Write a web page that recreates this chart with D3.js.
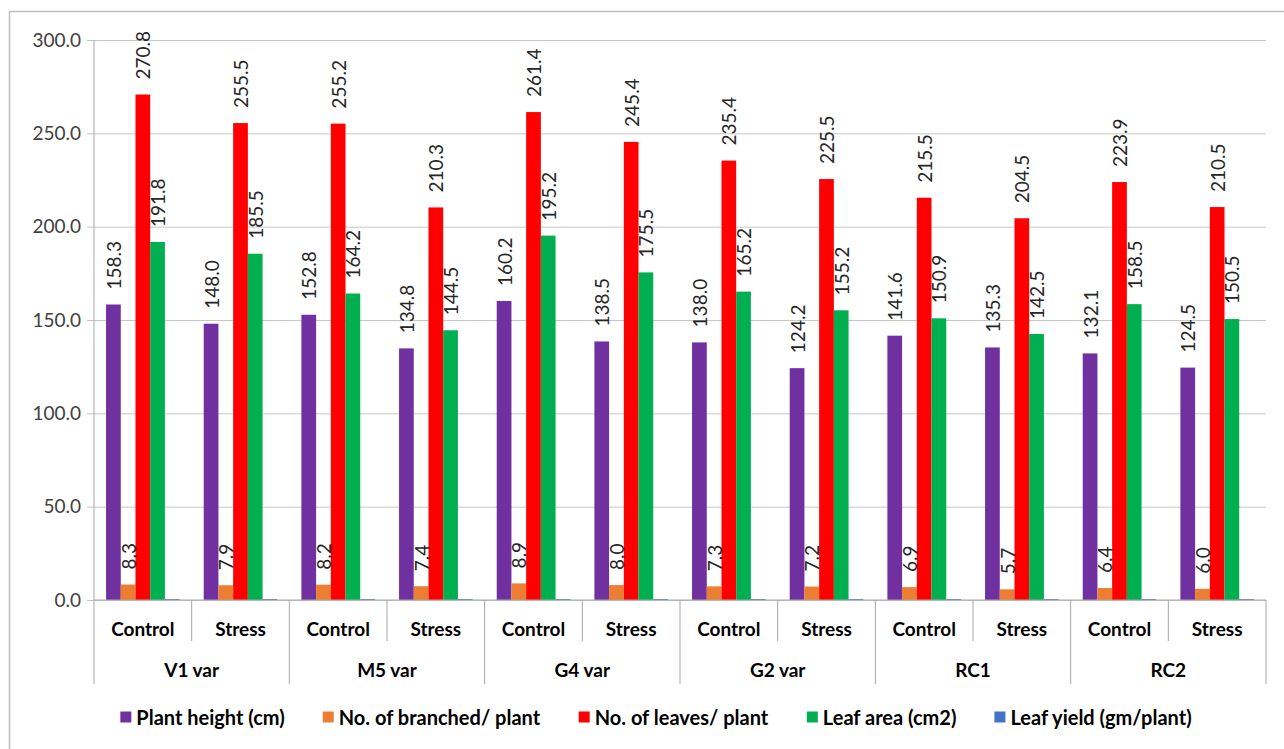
<!DOCTYPE html>
<html>
<head>
<meta charset="utf-8">
<script src="https://cdn.jsdelivr.net/npm/d3@7"></script>
<style>
    body { margin: 0; background: #fff; }
    svg { display: block; font-family: Lato, "Open Sans", sans-serif; }
</style>
</head>
<body>
<div id="chart"></div>
<script>
const groups = ['V1 var', 'M5 var', 'G4 var', 'G2 var', 'RC1', 'RC2'];
const treatments = ['Control', 'Stress'];
const seriesNames = ['Plant height (cm)', 'No. of branched/ plant', 'No. of leaves/ plant', 'Leaf area (cm2)', 'Leaf yield (gm/plant)'];
const seriesColors = ['#7030A0', '#ED7D31', '#FF0000', '#00B050', '#4472C4'];

const plantHeight = [158.3, 148.0, 152.8, 134.8, 160.2, 138.5, 138.0, 124.2, 141.6, 135.3, 132.1, 124.5];
const branches = [8.3, 7.9, 8.2, 7.4, 8.9, 8.0, 7.3, 7.2, 6.9, 5.7, 6.4, 6.0];
const leaves = [270.8, 255.5, 255.2, 210.3, 261.4, 245.4, 235.4, 225.5, 215.5, 204.5, 223.9, 210.5];
const leafArea = [191.8, 185.5, 164.2, 144.5, 195.2, 175.5, 165.2, 155.2, 150.9, 142.5, 158.5, 150.5];
const leafYield = [0.5, 0.5, 0.5, 0.5, 0.5, 0.5, 0.5, 0.5, 0.5, 0.5, 0.5, 0.5];
const yTicks = [0, 50, 100, 150, 200, 250, 300];

const seriesValues = [plantHeight, branches, leaves, leafArea, leafYield];
const showLabel = [true, true, true, true, false];

const W = 1284, H = 749;
const plot = { left: 94, right: 1266, top: 40, bottom: 600 };

const svg = d3.select('#chart').append('svg')
    .attr('width', W)
    .attr('height', H);

// outer chart border
svg.append('rect')
    .attr('x', 9.5).attr('y', 11.5)
    .attr('width', W).attr('height', H)
    .attr('fill', 'none')
    .attr('stroke', '#bfbfbf')
    .attr('stroke-width', 1.5);

// one category per group/treatment pair
const cats = [];
groups.forEach(g => treatments.forEach(t => cats.push(g + '|' + t)));

const x0 = d3.scaleBand()
    .domain(cats)
    .range([plot.left, plot.right])
    .padding(0);

const x1 = d3.scaleBand()
    .domain(seriesNames)
    .range([0, x0.bandwidth()])
    .paddingInner(0)
    .paddingOuter(0.82);

const y = d3.scaleLinear()
    .domain([0, 300])
    .range([plot.bottom, plot.top]);

// gridlines + y labels
const yAxis = svg.append('g')
    .attr('transform', `translate(${plot.left},0)`)
    .call(d3.axisLeft(y).tickValues(yTicks).tickSize(-(plot.right - plot.left)).tickSizeOuter(0).tickPadding(13).tickFormat(d3.format('.1f')));
yAxis.select('.domain').remove();
yAxis.selectAll('.tick line')
    .attr('stroke', '#c6c6c6')
    .attr('x1', -7);
yAxis.selectAll('.tick text')
    .attr('fill', '#404040')
    .style('font-size', '19px')
    .style('font-family', 'Lato, sans-serif');

// y axis line
svg.append('line')
    .attr('x1', plot.left).attr('x2', plot.left)
    .attr('y1', y(300)).attr('y2', y(0))
    .attr('stroke', '#a6a6a6');

// bars
seriesNames.forEach((s, si) => {
    svg.append('g')
        .selectAll('rect')
        .data(seriesValues[si])
        .enter()
        .append('rect')
        .attr('x', (d, i) => x0(cats[i]) + x1(s))
        .attr('y', d => y(d))
        .attr('width', x1.bandwidth())
        .attr('height', d => y(0) - y(d))
        .attr('fill', seriesColors[si]);
});

// value labels
seriesNames.forEach((s, si) => {
    if (!showLabel[si]) return;
    svg.append('g')
        .selectAll('text')
        .data(seriesValues[si])
        .enter()
        .append('text')
        .attr('transform', (d, i) => {
            const cx = x0(cats[i]) + x1(s) + x1.bandwidth() / 2;
            return `translate(${cx},${y(d) - 15}) rotate(-90)`;
        })
        .attr('text-anchor', 'start')
        .attr('dominant-baseline', 'central')
        .attr('fill', '#262626')
        .style('font-size', '19px')
        .text(d => d.toFixed(1));
});

// x axis line
svg.append('line')
    .attr('x1', plot.left).attr('x2', plot.right)
    .attr('y1', y(0)).attr('y2', y(0))
    .attr('stroke', '#a6a6a6');

// category separators
d3.range(cats.length + 1).forEach(k => {
    const xx = k < cats.length ? x0(cats[k]) : plot.right;
    svg.append('line')
        .attr('x1', xx).attr('x2', xx)
        .attr('y1', y(0))
        .attr('y2', k % 2 === 0 ? 684 : 641)
        .attr('stroke', '#a6a6a6');
});

// treatment labels
svg.append('g')
    .selectAll('text')
    .data(cats)
    .enter()
    .append('text')
    .attr('x', d => x0(d) + x0.bandwidth() / 2)
    .attr('y', 628)
    .attr('text-anchor', 'middle')
    .attr('dominant-baseline', 'central')
    .attr('font-weight', 'bold')
    .attr('fill', '#000')
    .style('font-size', '19px')
    .text(d => d.split('|')[1]);

// group labels
svg.append('g')
    .selectAll('text')
    .data(groups)
    .enter()
    .append('text')
    .attr('x', g => x0(g + '|Control') + x0.bandwidth())
    .attr('y', 669)
    .attr('text-anchor', 'middle')
    .attr('dominant-baseline', 'central')
    .attr('font-weight', 'bold')
    .attr('fill', '#000')
    .style('font-size', '19px')
    .text(g => g);

// legend
const legend = svg.append('g');
const items = legend.selectAll('g')
    .data(seriesNames)
    .enter()
    .append('g');
items.append('rect')
    .attr('width', 11).attr('height', 11)
    .attr('y', -5.5)
    .attr('fill', (d, i) => seriesColors[i]);
items.append('text')
    .attr('x', 16)
    .attr('dominant-baseline', 'central')
    .attr('font-weight', 'bold')
    .attr('fill', '#000')
    .style('font-size', '20px')
    .text(d => d);

const gap = 38;
let widths = [];
items.each(function () { widths.push(this.getBBox().width); });
const total = d3.sum(widths) + gap * (widths.length - 1);
let lx = 656 - total / 2;
items.attr('transform', (d, i) => {
    const t = `translate(${lx},717)`;
    lx += widths[i] + gap;
    return t;
});
</script>
</body>
</html>
